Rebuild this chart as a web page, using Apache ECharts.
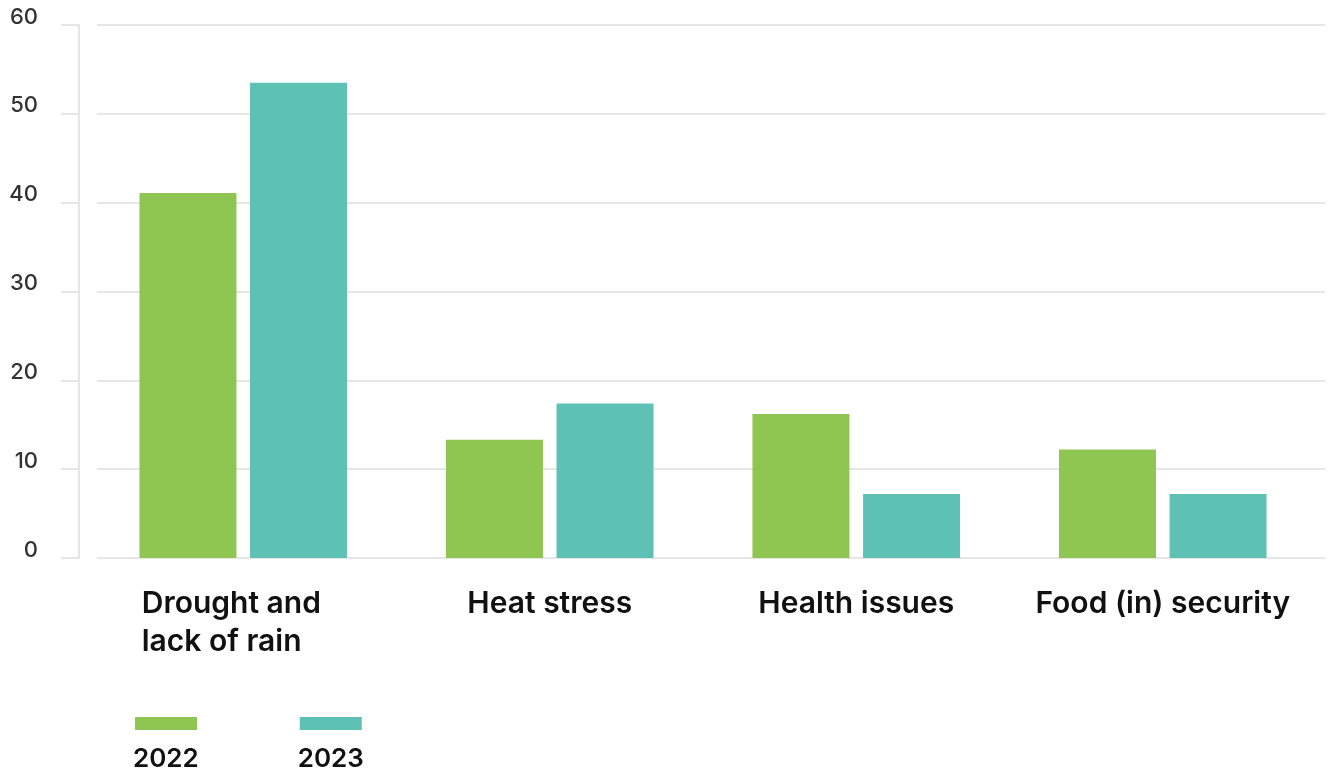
<!DOCTYPE html>
<html>
<head>
<meta charset="utf-8">
<script src="https://cdn.jsdelivr.net/npm/echarts@6/dist/echarts.min.js"></script>
<style>html,body{margin:0;padding:0;background:#fff;}#c{width:1330px;height:773px;}</style>
</head>
<body>
<div id="c"></div>
<script>
const categories = ['Drought and\nlack of rain', 'Heat stress', 'Health issues', 'Food (in) security'];
const years = ['2022', '2023'];
const values2022 = [41.1, 13.3, 16.2, 12.2];
const values2023 = [53.5, 17.4, 7.2, 7.2];
const yTicks = [0, 10, 20, 30, 40, 50, 60];

const FONT = 'Inter';
const chart = echarts.init(document.getElementById('c'));
const yMin = yTicks[0], yMax = yTicks[yTicks.length - 1], yStep = yTicks[1] - yTicks[0];
const gridTop = 25, gridBottom = 215;
const gl = { type: 'solid', color: '#dedede', width: 1.5 };

chart.setOption({
  animation: false,
  color: ['#8fc652', '#5dc1b3'],
  grid: [
    { left: 90, right: 14, top: gridTop, bottom: gridBottom },
    { left: 97, right: 5, top: gridTop, bottom: gridBottom },
    { left: 61, width: 18, top: gridTop, bottom: gridBottom }
  ],
  xAxis: [
    {
      gridIndex: 0, type: 'category', data: categories,
      axisLine: { show: false }, axisTick: { show: false },
      axisLabel: {
        interval: 0, hideOverlap: false,
        margin: 27, color: '#111', fontFamily: FONT, fontSize: 30, fontWeight: 600,
        lineHeight: 38,
        formatter: function (v) {
          if (v.indexOf('\n') >= 0) {
            return v.split('\n').map(function (s) { return '{l|' + s + '}'; }).join('\n');
          }
          return v;
        },
        rich: { l: { width: 203, align: 'left', fontFamily: FONT, fontSize: 30, fontWeight: 600, color: '#111', lineHeight: 38 } }
      }
    },
    { gridIndex: 1, type: 'value', min: 0, max: 1, show: false },
    { gridIndex: 2, type: 'value', min: 0, max: 1, show: false }
  ],
  yAxis: [
    { gridIndex: 0, type: 'value', min: yMin, max: yMax, interval: yStep, show: false },
    {
      gridIndex: 1, type: 'value', min: yMin, max: yMax, interval: yStep,
      axisLine: { show: false }, axisTick: { show: false }, axisLabel: { show: false },
      splitLine: { show: true, lineStyle: gl }
    },
    {
      gridIndex: 2, type: 'value', min: yMin, max: yMax, interval: yStep, position: 'left',
      axisLine: { show: false }, axisTick: { show: false },
      axisLabel: { margin: 23, color: '#333', fontFamily: FONT, fontSize: 22, fontWeight: 500, verticalAlign: 'bottom', lineHeight: 22, padding: [0, 0, -3, 0] },
      splitLine: { show: true, lineStyle: gl }
    },
    {
      gridIndex: 2, type: 'value', min: yMin, max: yMax, interval: yStep, position: 'right',
      axisLine: { show: true, lineStyle: { color: '#dedede', width: 1.5 } },
      axisTick: { show: false }, axisLabel: { show: false }, splitLine: { show: false }
    }
  ],
  legend: {
    left: 128, top: 712, orient: 'horizontal',
    itemWidth: 62, itemHeight: 13, itemGap: 99, icon: 'rect',
    data: years,
    formatter: '{t|{name}}',
    textStyle: {
      color: '#111', fontFamily: FONT, fontSize: 26, fontWeight: 600,
      rich: { t: { color: '#111', fontFamily: FONT, fontSize: 26, fontWeight: 600, padding: [72, 0, 0, -69] } }
    }
  },
  series: [
    { name: years[0], type: 'bar', xAxisIndex: 0, yAxisIndex: 0, data: values2022, barWidth: 97, barGap: '14%' },
    { name: years[1], type: 'bar', xAxisIndex: 0, yAxisIndex: 0, data: values2023, barWidth: 97, barGap: '14%' }
  ]
});
</script>
</body>
</html>
